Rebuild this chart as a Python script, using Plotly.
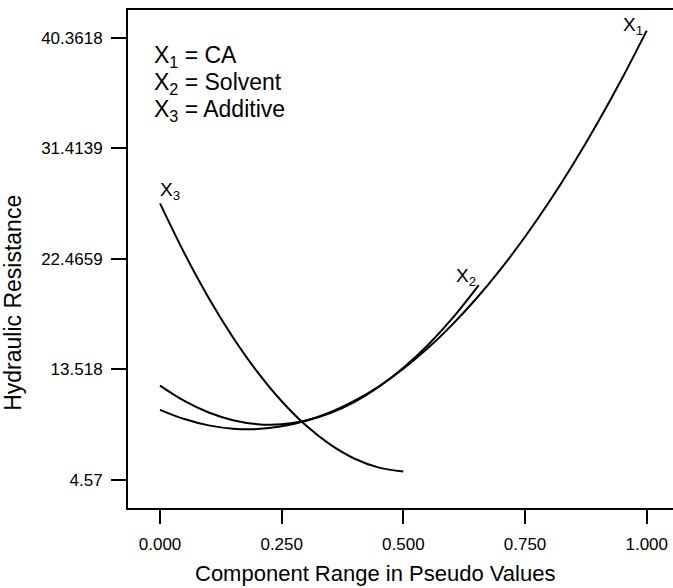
import plotly.graph_objects as go

# Trace values
x1_vals = [0.00, 0.05, 0.10, 0.15, 0.20, 0.25, 0.30, 0.35, 0.40, 0.45, 0.50,
           0.55, 0.60, 0.65, 0.70, 0.75, 0.80, 0.85, 0.90, 0.95, 1.00]
ca_resist = [10.23, 9.48, 8.97, 8.70, 8.67, 8.89, 9.34, 10.03, 10.97, 12.14, 13.56,
             15.21, 17.11, 19.24, 21.62, 24.24, 27.09, 30.19, 33.53, 37.11, 40.93]

x2_vals = [0.00, 0.05, 0.10, 0.15, 0.20, 0.25, 0.30, 0.35, 0.40, 0.45, 0.50,
           0.55, 0.60, 0.655]
solvent_resist = [12.19, 10.95, 10.01, 9.39, 9.07, 9.06, 9.36, 9.96, 10.87, 12.10, 13.63,
                  15.46, 17.61, 20.33]

x3_vals = [0.00, 0.05, 0.10, 0.15, 0.20, 0.25, 0.30, 0.35, 0.40, 0.45, 0.50]
additive_resist = [26.94, 22.91, 19.29, 16.09, 13.30, 10.92, 8.95, 7.41, 6.27, 5.55, 5.24]

x_ticks = [0.0, 0.25, 0.5, 0.75, 1.0]
x_tick_labels = ["0.000", "0.250", "0.500", "0.750", "1.000"]
y_ticks = [4.57, 13.518, 22.4659, 31.4139, 40.3618]
y_tick_labels = ["4.57", "13.518", "22.4659", "31.4139", "40.3618"]

key_lines = ["X<sub>1</sub> = CA", "X<sub>2</sub> = Solvent", "X<sub>3</sub> = Additive"]
x_title = "Component Range in Pseudo Values"
y_title = "Hydraulic Resistance"

FONT = "Liberation Sans, Arial, sans-serif"
BLACK = "black"

fig = go.Figure()
for xs, ys, name in [(x1_vals, ca_resist, "X1"), (x2_vals, solvent_resist, "X2"),
                     (x3_vals, additive_resist, "X3")]:
    fig.add_trace(go.Scatter(x=xs, y=ys, mode="lines", name=name,
                             line=dict(color=BLACK, width=2, shape="spline"),
                             showlegend=False, hoverinfo="skip"))

# Trace end labels
lab_font = dict(family=FONT, size=19, color=BLACK)
fig.add_annotation(x=1.0, y=ca_resist[-1], text="X<sub>1</sub>", showarrow=False,
                   xanchor="right", yanchor="bottom", xshift=-2, yshift=-9, font=lab_font)
fig.add_annotation(x=x2_vals[-1], y=solvent_resist[-1], text="X<sub>2</sub>", showarrow=False,
                   xanchor="right", yanchor="bottom", xshift=-1, yshift=-6, font=lab_font)
fig.add_annotation(x=0.0, y=additive_resist[0], text="X<sub>3</sub>", showarrow=False,
                   xanchor="left", yanchor="bottom", xshift=-2, yshift=-2, font=lab_font)

# Key text
for i, t in enumerate(key_lines):
    fig.add_annotation(xref="paper", yref="paper", x=0.044, y=0.9066 - i * 0.0542,
                       text=t, showarrow=False, xanchor="left", yanchor="middle",
                       font=dict(family=FONT, size=23, color=BLACK))

# Axis titles
fig.add_annotation(xref="paper", yref="paper", x=0.453, y=-0.132, text=x_title,
                   showarrow=False, xanchor="center", yanchor="middle",
                   font=dict(family=FONT, size=22, color=BLACK))
fig.add_annotation(xref="paper", yref="paper", x=-0.211, y=0.412, text=y_title,
                   showarrow=False, xanchor="center", yanchor="middle", textangle=-90,
                   font=dict(family=FONT, size=23, color=BLACK))

fig.update_layout(
    width=673, height=588,
    margin=dict(l=128, r=0, t=10, b=80),
    paper_bgcolor="white", plot_bgcolor="white",
    font=dict(family=FONT, color=BLACK),
)
fig.update_xaxes(range=[-0.0658, 1.054], tickvals=x_ticks, ticktext=x_tick_labels,
                 showline=True, linecolor=BLACK, linewidth=2, mirror=True,
                 ticks="outside", ticklen=14, tickwidth=2, tickcolor=BLACK,
                 ticklabelstandoff=6,
                 showgrid=False, zeroline=False,
                 tickfont=dict(family=FONT, size=17, color=BLACK))
fig.update_yaxes(range=[2.28, 42.6], tickvals=y_ticks, ticktext=y_tick_labels,
                 showline=True, linecolor=BLACK, linewidth=2,
                 ticks="outside", ticklen=15, tickwidth=2, tickcolor=BLACK,
                 ticklabelstandoff=5,
                 showgrid=False, zeroline=False,
                 tickfont=dict(family=FONT, size=17, color=BLACK))

# Remove the browser's default 8px body margin so the figure fills the window.
fig.write_html("out.html", config={"displayModeBar": False},
               post_script="document.body.style.margin='0px';")
